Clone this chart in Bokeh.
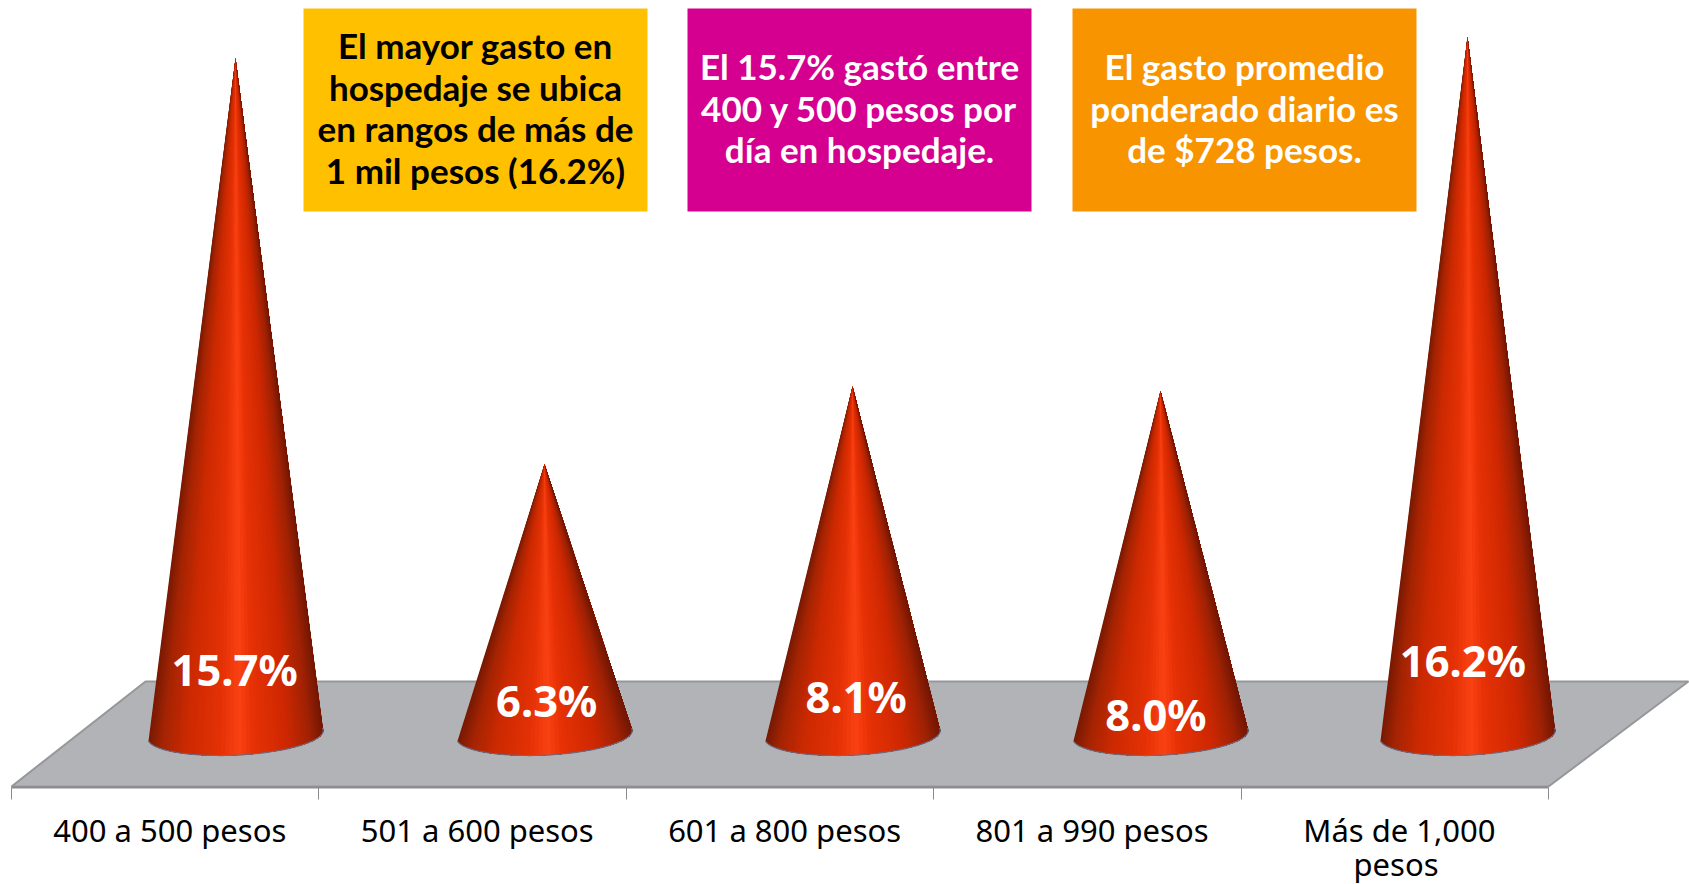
from bokeh.plotting import figure
from bokeh.embed import file_html
from bokeh.resources import INLINE
from bokeh.core.properties import value
from bokeh.models import FixedTicker, LinearAxis, Range1d, Title
import math

categories = ["400 a 500 pesos", "501 a 600 pesos", "601 a 800 pesos", "801 a 990 pesos", "Más de 1,000\npesos"]
percent = [15.7, 6.3, 8.1, 8.0, 16.2]
percent_labels = ["15.7%", "6.3%", "8.1%", "8.0%", "16.2%"]
label_heights = [1.574, 0.856, 0.926, 0.532, 1.76]
label_shift = [-0.003, 0.007, 0.012, -0.015, -0.015]
notes = [
    ["El mayor gasto en", "hospedaje se ubica", "en rangos de más de", "1 mil pesos (16.2%)"],
    ["El 15.7% gastó entre", "400 y 500 pesos por", "día en hospedaje."],
    ["El gasto promedio", "ponderado diario es", "de $728 pesos."],
]
note_fill = ["#FFC000", "#D5008F", "#F79400"]
note_text = ["#000000", "#FFFFFF", "#FFFFFF"]

W, H = 1689, 884
PX_UNIT = 307.4
PY_UNIT = 43.2
def X(px): return (px - 11) / PX_UNIT
def Y(py): return (736 - py) / PY_UNIT

FRAME_BOTTOM = 787
p = figure(width=W, height=H, output_backend="svg", toolbar_location=None,
           x_range=Range1d(X(0), X(W)), y_range=Range1d(Y(FRAME_BOTTOM), Y(0)),
           x_axis_location=None, y_axis_location=None, min_border=0,
           min_border_bottom=H - FRAME_BOTTOM,
           outline_line_color=None, background_fill_color="white", border_fill_color="white")
p.grid.visible = False

# floor
p.patch([X(11), X(145), X(1688), X(1548)], [Y(786), Y(681), Y(681), Y(786)],
        fill_color="#B1B3B6", line_color="#969799", line_width=2)

# cones
def lerp(c1, c2, t):
    return tuple(c1[i] + (c2[i] - c1[i]) * t for i in range(3))

stops = [(0.0, (120, 26, 4)), (0.08, (165, 36, 3)), (0.22, (205, 42, 2)), (0.42, (230, 50, 6)),
         (0.52, (250, 66, 20)), (0.60, (232, 50, 6)), (0.8, (205, 40, 2)), (0.93, (160, 34, 4)), (1.0, (118, 24, 4))]

def shade(f):
    for (a, ca), (b, cb) in zip(stops, stops[1:]):
        if f <= b:
            r, g, bl = lerp(ca, cb, (f - a) / (b - a))
            return "#%02x%02x%02x" % (int(r), int(g), int(bl))
    return "#761804"

UX, UY = 87.0 / PX_UNIT, 6.5 / PY_UNIT
VX, VY = 11 / PX_UNIT, -20.0 / PY_UNIT
cone_x = [X(235), X(544), X(852), X(1160), X(1467)]
base_y = Y(734)
STRIPS = 64
for cx, val in zip(cone_x, percent):
    rim_x, rim_y = [], []
    for k in range(STRIPS + 1):
        t = math.pi * k / STRIPS
        rim_x.append(cx - math.cos(t) * UX + math.sin(t) * VX)
        rim_y.append(base_y - math.cos(t) * UY + math.sin(t) * VY)
    xs, ys, cols = [], [], []
    for k in range(STRIPS):
        # each fan reaches the right edge, so later ones paint over earlier seams
        xs.append([cx] + rim_x[k:])
        ys.append([val] + rim_y[k:])
        cols.append(shade((((rim_x[k] + rim_x[k + 1]) / 2) - cx + UX) / (2 * UX)))
    p.patches(xs, ys, fill_color=cols, line_color=None)
    p.line(rim_x, rim_y, line_color="#6a6a80", line_width=1.2)

# axis: first line of each category on the axis, the wrapped remainder set under it
first_lines = [c.split("\n")[0] for c in categories]
label_ticks = [i + 0.515 for i in range(len(categories))]
axis = LinearAxis(ticker=FixedTicker(ticks=label_ticks, minor_ticks=list(range(6))),
                  major_label_overrides=dict(zip(label_ticks, first_lines)),
                  bounds=(0, 5))
axis.axis_line_color = "#8c8c8e"
axis.axis_line_width = 2
axis.major_tick_line_color = None
axis.major_tick_out = 0
axis.major_tick_in = 0
axis.minor_tick_line_color = "#8c8c8e"
axis.minor_tick_line_width = 1
axis.minor_tick_out = 12
axis.minor_tick_in = 0
axis.major_label_standoff = 9
axis.major_label_text_font = "Noto Sans"
axis.major_label_text_font_size = "31px"
axis.major_label_text_color = "#000000"
p.add_layout(axis, "below")

wrapped = Title(text=categories[4].split("\n")[1], text_font="Noto Sans", text_font_size="31px",
                text_font_style="normal", text_color="#000000", align="left", offset=1353, standoff=-26)
p.add_layout(wrapped, "below")

# labels on cones
p.text([c + s for c, s in zip(cone_x, label_shift)], label_heights, text=percent_labels,
       text_font=value("Noto Sans"), text_font_style="bold", text_font_size="43.5px",
       text_color="white", text_align="center", text_baseline="middle")

# note boxes
box_left = [303, 687, 1072]
BOX_W, BOX_T, BOX_B = 344, 8, 211
LINE = 41.5
for left, lines, fill, col in zip(box_left, notes, note_fill, note_text):
    p.quad(left=[X(left)], right=[X(left + BOX_W)], top=[Y(BOX_T)], bottom=[Y(BOX_B)],
           fill_color=fill, line_color=None)
    cy = (BOX_T + BOX_B) / 2 - 2.5
    n = len(lines)
    p.text([X(left + BOX_W / 2)] * n, [Y(cy + (i - (n - 1) / 2) * LINE) for i in range(n)], text=lines,
           text_font=value("Lato"), text_font_style="bold", text_font_size="35px",
           text_color=col, text_align="center", text_baseline="middle")

html = file_html(p, INLINE)
open("out.html", "w").write(html)
